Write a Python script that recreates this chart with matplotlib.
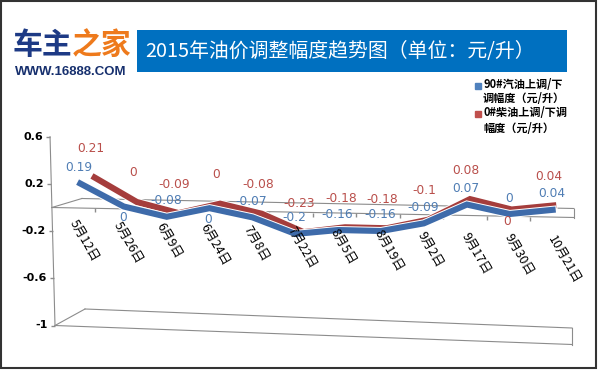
import numpy as np
import matplotlib
matplotlib.use('Agg')
import matplotlib.pyplot as plt
import matplotlib.transforms as mtransforms
import matplotlib.patheffects as pe
from matplotlib.patches import Rectangle

plt.rcParams['font.family'] = ['Noto Sans CJK SC', 'DejaVu Sans']

# 数据
categories = ['5月12日', '5月26日', '6月9日', '6月24日', '7月8日', '7月22日',
              '8月5日', '8月19日', '9月2日', '9月17日', '9月30日', '10月21日']
gasoline = [0.19, 0, -0.08, 0, -0.07, -0.2, -0.16, -0.16, -0.09, 0.07, 0, 0.04]
diesel = [0.21, 0, -0.09, 0, -0.08, -0.23, -0.18, -0.18, -0.1, 0.08, 0, 0.04]
y_ticks = [0.6, 0.2, -0.2, -0.6, -1]
legend_gas = ['90#汽油上调/下', '调幅度（元/升）']
legend_diesel = ['0#柴油上调/下调', '幅度（元/升）']
title = '2015年油价调整幅度趋势图（单位：元/升）'

# 零值标签放在线下方的点
gas_below = [1, 3]
diesel_below = [10]

grid_c = '#8C8C8C'
blue_line = '#3E6BAA'
red_line = '#A53D3C'
blue_txt = '#4F7DB4'
red_txt = '#B94F4B'


class Depth(mtransforms.Transform):
    # 伪 3D 透视：(类别位置, 数值) -> 像素，d 为纵深 0..1
    input_dims = 2
    output_dims = 2
    is_separable = False
    has_inverse = False

    def __init__(self, d):
        super().__init__()
        self.d = d

    def transform_non_affine(self, pts):
        pts = np.asarray(pts, dtype=float)
        u, v = pts[:, 0], pts[:, 1]
        t = u / len(categories)
        x = 51.9 - 3.1 * v + (522.1 + 5.1 * v) * t + 30 * (1 - t) * self.d
        y = 207.5 - 118 * v + (10 - 9 * v) * t - (9 - 7.5 * v) * self.d
        return np.column_stack([x, y])


fig = plt.figure(figsize=(6, 3.71), dpi=100)
ax = fig.add_axes([0, 0, 1, 1])
ax.set_xlim(0, 600)
ax.set_ylim(371, 0)
ax.axis('off')


def tr(d, dx=0, dy=0):
    return mtransforms.offset_copy(Depth(d) + ax.transData, fig, x=dx, y=dy, units='dots')


def depth_edge(u, v):
    p0 = Depth(0).transform([[u, v]])[0]
    p1 = Depth(1).transform([[u, v]])[0]
    ax.plot([p0[0], p1[0]], [p0[1], p1[1]], color=grid_c, lw=0.8)


n = len(categories)
pos = np.arange(n) + 0.5

# 底面与零值面
for v in [-1, 0]:
    ax.plot([0, n], [v, v], color=grid_c, lw=0.8, transform=tr(0))
    ax.plot([0, n], [v, v], color=grid_c, lw=0.8, transform=tr(1))
    depth_edge(0, v)
    depth_edge(n, v)

# 纵轴
ax.plot([0, 0], [y_ticks[0], y_ticks[-1]], color=grid_c, lw=0.8, transform=tr(0))
for v in y_ticks:
    ax.plot([0], [v], marker=0, markersize=3, color=grid_c, transform=tr(0))
    ax.text(0, v, f'{v:g}', transform=tr(0, dx=-7), ha='right', va='center',
            fontsize=8, fontweight='bold', family='DejaVu Sans')

# 类别刻度与标签
ax.plot(np.arange(1, n), np.zeros(n - 1), marker=3, markersize=3, linestyle='none',
        color=grid_c, transform=tr(0))
for i, cat in enumerate(categories):
    ax.text(pos[i], 0, cat, transform=tr(0, dx=-1, dy=-(13 + 7 * i / n)),
            rotation=-60, rotation_mode='anchor', ha='left', va='center',
            fontsize=9, fontweight='medium')

# 系列线
outline = [pe.Stroke(linewidth=5.8, foreground='white'), pe.Normal()]
ax.plot(pos, diesel, color=red_line, lw=4.4, solid_joinstyle='miter',
        path_effects=outline, transform=tr(0.75))
ax.plot(pos, gasoline, color=blue_line, lw=4.4, solid_joinstyle='miter',
        path_effects=outline, transform=tr(0.25))

# 数据标签
for i, v in enumerate(diesel):
    dy = -12 if i in diesel_below else 29
    ax.text(pos[i], v, f'{v:g}', transform=tr(0.75, dx=-4, dy=dy), ha='center', va='center',
            color=red_txt, fontsize=8.8, family='DejaVu Sans')
for i, v in enumerate(gasoline):
    dy = -11 if i in gas_below else 16
    ax.text(pos[i], v, f'{v:g}', transform=tr(0.25, dx=-1, dy=dy), ha='center', va='center',
            color=blue_txt, fontsize=8.8, family='DejaVu Sans')

# 图例
ax.plot([478], [86], marker='s', markersize=4, color='#4F81BD', linestyle='none')
ax.plot([478], [114], marker='s', markersize=4, color='#C0504D', linestyle='none')
for k, line in enumerate(legend_gas):
    ax.text(483, 85 + 14 * k, line, ha='left', va='center', fontsize=8, fontweight='bold')
for k, line in enumerate(legend_diesel):
    ax.text(483, 113 + 15 * k, line, ha='left', va='center', fontsize=8, fontweight='bold')

# 标题栏
ax.add_patch(Rectangle((137, 30), 430, 42, facecolor='#0070C0', edgecolor='none'))
ax.text(145, 51, title, ha='left', va='center', color='white', fontsize=14.3)

# 标志
ax.text(13, 45, '车主', ha='left', va='center', color='#1D3A85', fontsize=21.5, fontweight='heavy')
ax.text(72, 45, '之家', ha='left', va='center', color='#EE7A1C', fontsize=21.5, fontweight='heavy')
ax.text(15, 72, 'WWW.16888.COM', ha='left', va='center', color='#17306E', fontsize=9.5,
        fontweight='bold', family='Liberation Sans')

# 外框
ax.add_patch(Rectangle((1, 1), 595, 367, facecolor='none', edgecolor='#333333', lw=1.5))

fig.savefig('out.png', dpi=100)
